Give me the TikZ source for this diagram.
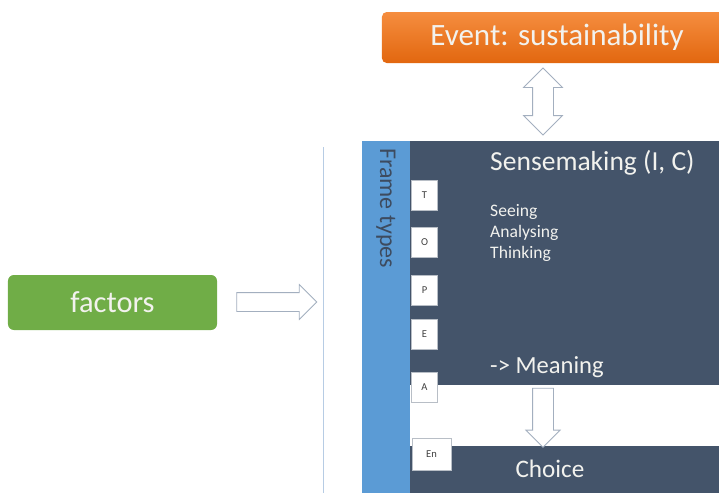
\documentclass[tikz,border=0pt]{standalone}
\usepackage{fontspec}
\setmainfont{Carlito}
\usetikzlibrary{shapes.arrows}

\definecolor{eventtop}{HTML}{F58D3F}
\definecolor{eventbot}{HTML}{E2670F}
\definecolor{factorgreen}{HTML}{70AD47}
\definecolor{senseslate}{HTML}{44546A}
\definecolor{frameblue}{HTML}{5B9BD5}
\definecolor{arrowgray}{HTML}{A3AFBF}
\definecolor{boxgray}{HTML}{B8BEC6}
\definecolor{lineblue}{HTML}{B7CCE4}
\definecolor{palefont}{HTML}{F2F2EE}

\tikzset{
  blockarrow/.style={draw=arrowgray, fill=white, line width=0.7pt},
  letterbox/.style={draw=boxgray, fill=white, line width=0.5pt, inner sep=0pt,
    minimum width=0.78cm, minimum height=0.9cm, text=black!75,
    font=\fontsize{9}{10}\selectfont},
  slatetext/.style={text=palefont, inner sep=0pt}
}

\begin{document}
\begin{tikzpicture}[x=0.03cm, y=-0.03cm]
			%%%%% START %%%%%
			\useasboundingbox (0,0) rectangle (719,493);
			
			% event on top
			\node (event) [rounded corners=4pt, top color=eventtop, bottom color=eventbot,
			  minimum width=10.5cm, minimum height=1.53cm, text=palefont,
			  font=\fontsize{26.5}{30}\selectfont] at (557,37.5) {Event: sustainability};
			
			% factors on the left
			\node (factors) [rounded corners=5pt, fill=factorgreen, minimum width=6.27cm,
			  minimum height=1.65cm, text=palefont,
			  font=\fontsize{26}{30}\selectfont] at (112.5,302.5) {factors};
			
			\draw[lineblue, line width=0.8pt] (323,147) -- (323,493);
			
			% the two slate panels and the frame bar
			\fill[senseslate] (410,141) rectangle (719,385);
			\fill[senseslate] (410,446) rectangle (719,493);
			\fill[frameblue] (362,141) rectangle (410,493);
			\node (frame) [rotate=-90, anchor=west, inner sep=0pt, text=senseslate!90!black,
			  font=\fontsize{20.5}{24}\selectfont] at (386,148) {Frame types};
			
			\node (sense) [slatetext, anchor=west, font=\fontsize{23.5}{28}\selectfont]
			  at (490,163) {Sensemaking (I, C)};
			\node (steps) [slatetext, anchor=west, align=left, font=\fontsize{15}{18}\selectfont]
			  at (490,233) {Seeing\\Analysing\\Thinking};
			\node (meaning) [slatetext, anchor=west, font=\fontsize{21}{25}\selectfont]
			  at (490,367) {-> Meaning};
			\node (choice) [slatetext, font=\fontsize{21.5}{25}\selectfont]
			  at (550,469) {Choice};
			
			% frame type letters
			\node (t) [letterbox] at (424.5,195.5) {T};
			\node (o) [letterbox] at (424.5,242.5) {O};
			\node (p) [letterbox] at (424.5,290) {P};
			\node (e) [letterbox] at (424.5,334.5) {E};
			\node (a) [letterbox] at (424.5,387.5) {A};
			\node (en) [letterbox, minimum width=1.17cm, minimum height=0.96cm] at (431.5,454) {En};
			
			% block arrows
			\node (eventlink) [blockarrow, double arrow, shape border rotate=90, inner sep=0.3cm,
			  minimum height=2.01cm, double arrow head extend=0.27cm]
			  at (543,101.5) {};
			\node (factorlink) [blockarrow, single arrow, inner sep=0.27cm,
			  minimum height=2.4cm, single arrow head extend=0.24cm]
			  at (272,302) {};
			\node (choicelink) [blockarrow, single arrow, shape border rotate=270, inner sep=0.3cm,
			  minimum height=1.77cm, single arrow head extend=0.2cm]
			  at (543,412.5) {};
			
			%%%%% END %%%%%
\end{tikzpicture}
\end{document}
